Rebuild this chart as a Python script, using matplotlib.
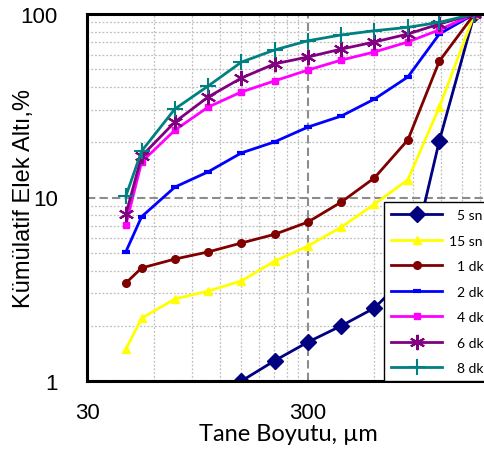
import matplotlib
matplotlib.use("Agg")
import matplotlib.pyplot as plt
from matplotlib.ticker import FixedLocator, FuncFormatter, NullFormatter

# ---- data ----
sizes = [45, 53, 75, 106, 150, 212, 300, 425, 600, 850, 1180, 1700]
sizes_5sn = [150, 212, 300, 425, 600, 850, 1180, 1700]
sn5 = [1.0, 1.29, 1.63, 2.0, 2.5, 3.8, 20.4, 100]
sn15 = [1.49, 2.2, 2.8, 3.09, 3.51, 4.5, 5.44, 6.9, 9.2, 12.5, 31.1, 100]
dk1 = [3.42, 4.13, 4.62, 5.05, 5.65, 6.3, 7.35, 9.45, 12.8, 20.6, 55.4, 100]
dk2 = [5.07, 7.86, 11.4, 13.8, 17.5, 20.1, 24.2, 27.8, 34.4, 45.4, 77.8, 100]
dk4 = [7.1, 15.6, 23.3, 31.1, 37.6, 43.2, 49.5, 56.1, 62.1, 70.4, 82.0, 100]
dk6 = [8.1, 16.8, 25.8, 35.3, 44.8, 53.5, 58.3, 64.4, 70.4, 77.8, 88.2, 100]
dk8 = [10.2, 17.9, 30.4, 40.5, 54.7, 63.7, 71.5, 76.9, 81.1, 84.6, 90.1, 100]
labels = ["\u20075 sn", "15 sn", "\u20071 dk", "\u20072 dk", "\u20074 dk", "\u20076 dk", "\u20078 dk"]
xticks = [30, 300, 3000]
yticks = [1, 10, 100]

W, H = 484, 456
fig = plt.figure(figsize=(W / 100, H / 100), dpi=100)
left, right_px, top, bottom = 87, 490, 15, 382
ax = fig.add_axes([left / W, (H - bottom) / H, (right_px - left) / W, (bottom - top) / H])

ax.set_xscale("log")
ax.set_yscale("log")
ax.set_xlim(30, 2000)
ax.set_ylim(1, 100)

lw = 2.0
ax.plot(sizes_5sn, sn5, color="#000080", lw=lw, marker="D", ms=8, label=labels[0])
ax.plot(sizes, sn15, color="#FFFF00", lw=lw, marker="^", ms=6, label=labels[1])
ax.plot(sizes, dk1, color="#800000", lw=lw, marker="o", ms=5.5, label=labels[2])
ax.plot(sizes, dk2, color="#0000FF", lw=lw, marker="_", ms=6, mew=3, label=labels[3])
ax.plot(sizes, dk4, color="#FF00FF", lw=lw, marker="s", ms=5, label=labels[4])
ax.plot(sizes, dk6, color="#800080", lw=lw, marker=(6, 2, 0), ms=11, mew=1.5, label=labels[5])
ax.plot(sizes, dk8, color="#008080", lw=lw, marker="+", ms=11, mew=1.5, label=labels[6])

# ticks & grid
ax.xaxis.set_major_locator(FixedLocator(xticks))
ax.xaxis.set_minor_locator(FixedLocator([30 * k * 10 ** n for n in (0, 1, 2) for k in range(2, 10)]))
ax.yaxis.set_major_locator(FixedLocator(yticks))
ax.yaxis.set_minor_locator(FixedLocator([k * 10 ** n for n in (0, 1) for k in range(2, 10)]))
fmt = FuncFormatter(lambda v, p: f"{v:g}")
ax.xaxis.set_major_formatter(fmt)
ax.yaxis.set_major_formatter(fmt)
ax.xaxis.set_minor_formatter(NullFormatter())
ax.yaxis.set_minor_formatter(NullFormatter())
ax.tick_params(which="both", length=0)
ax.tick_params(axis="x", which="major", pad=15, labelsize=16)
ax.tick_params(axis="y", which="major", pad=21, labelsize=16)
for t in ax.get_xticklabels() + ax.get_yticklabels():
    t.set_fontfamily("Liberation Sans")

ax.set_axisbelow(True)
ax.grid(which="minor", color="#BFBFBF", lw=0.9, linestyle=(0, (1.5, 1.5)))
ax.grid(which="major", color="#8C8C8C", lw=1.5, linestyle=(0, (4, 2)))

for s in ax.spines.values():
    s.set_linewidth(2.2)
    s.set_color("black")

ax.set_ylabel("Kümülatif Elek Altı,%", fontsize=17, family="Liberation Sans")
ax.yaxis.set_label_coords(-0.129, 0.5)
ax.set_xlabel("Tane Boyutu, µm", fontsize=17, family="Lato", labelpad=0)

leg = ax.legend(loc="lower left", bbox_to_anchor=((384 - left) / (right_px - left), 0.0),
                prop={"family": "Lato", "size": 10}, frameon=True, fancybox=False,
                edgecolor="black", framealpha=1, handlelength=3.7, labelspacing=0.97,
                borderpad=0.5, handletextpad=0.45, borderaxespad=0)
leg.get_frame().set_linewidth(1.0)

fig.savefig("out.png", dpi=100)
